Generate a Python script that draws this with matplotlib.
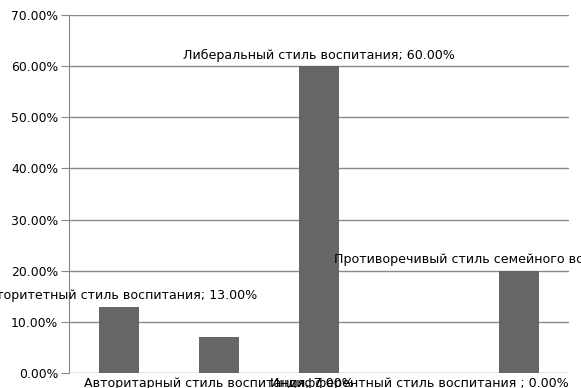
import matplotlib
matplotlib.use("Agg")
import matplotlib.pyplot as plt
from matplotlib.ticker import PercentFormatter, MultipleLocator

labels = [
    "Авторитетный стиль воспитания",
    "Авторитарный стиль воспитания",
    "Либеральный стиль воспитания",
    "Индифферентный стиль воспитания ",
    "Противоречивый стиль семейного воспитания",
]
values = [13.0, 7.0, 60.0, 0.0, 20.0]
label_below = [False, True, False, True, False]

fig = plt.figure(figsize=(5.81, 3.88), dpi=100)
ax = fig.add_axes([69 / 581, 1 - 373 / 388, 500 / 581, 358 / 388])

x = list(range(len(values)))
ax.bar(x, values, width=0.4, color="#666666", zorder=3)

ax.set_xlim(-0.5, len(values) - 0.5)
ax.set_ylim(0, 70)
ax.yaxis.set_major_locator(MultipleLocator(10))
ax.yaxis.set_major_formatter(PercentFormatter(decimals=2))
ax.grid(axis="y", color="#888888", linewidth=1, zorder=0)
ax.set_axisbelow(True)
for s in ["top", "right", "bottom"]:
    ax.spines[s].set_visible(False)
ax.spines["left"].set_color("#888888")
ax.tick_params(axis="y", length=6, color="#888888", labelsize=8.9, pad=1.8)
ax.tick_params(axis="x", bottom=False, labelbottom=False)

fs = 9.1
for xi, v, name, below in zip(x, values, labels, label_below):
    txt = f"{name}; {v:.2f}%"
    if below:
        ax.annotate(txt, (xi, 0), xytext=(0, -7.5), textcoords="offset points",
                    ha="center", va="center", fontsize=fs, annotation_clip=False)
    else:
        ax.annotate(txt, (xi, v), xytext=(0, 8), textcoords="offset points",
                    ha="center", va="center", fontsize=fs, annotation_clip=False)

fig.savefig("out.png", dpi=100)
